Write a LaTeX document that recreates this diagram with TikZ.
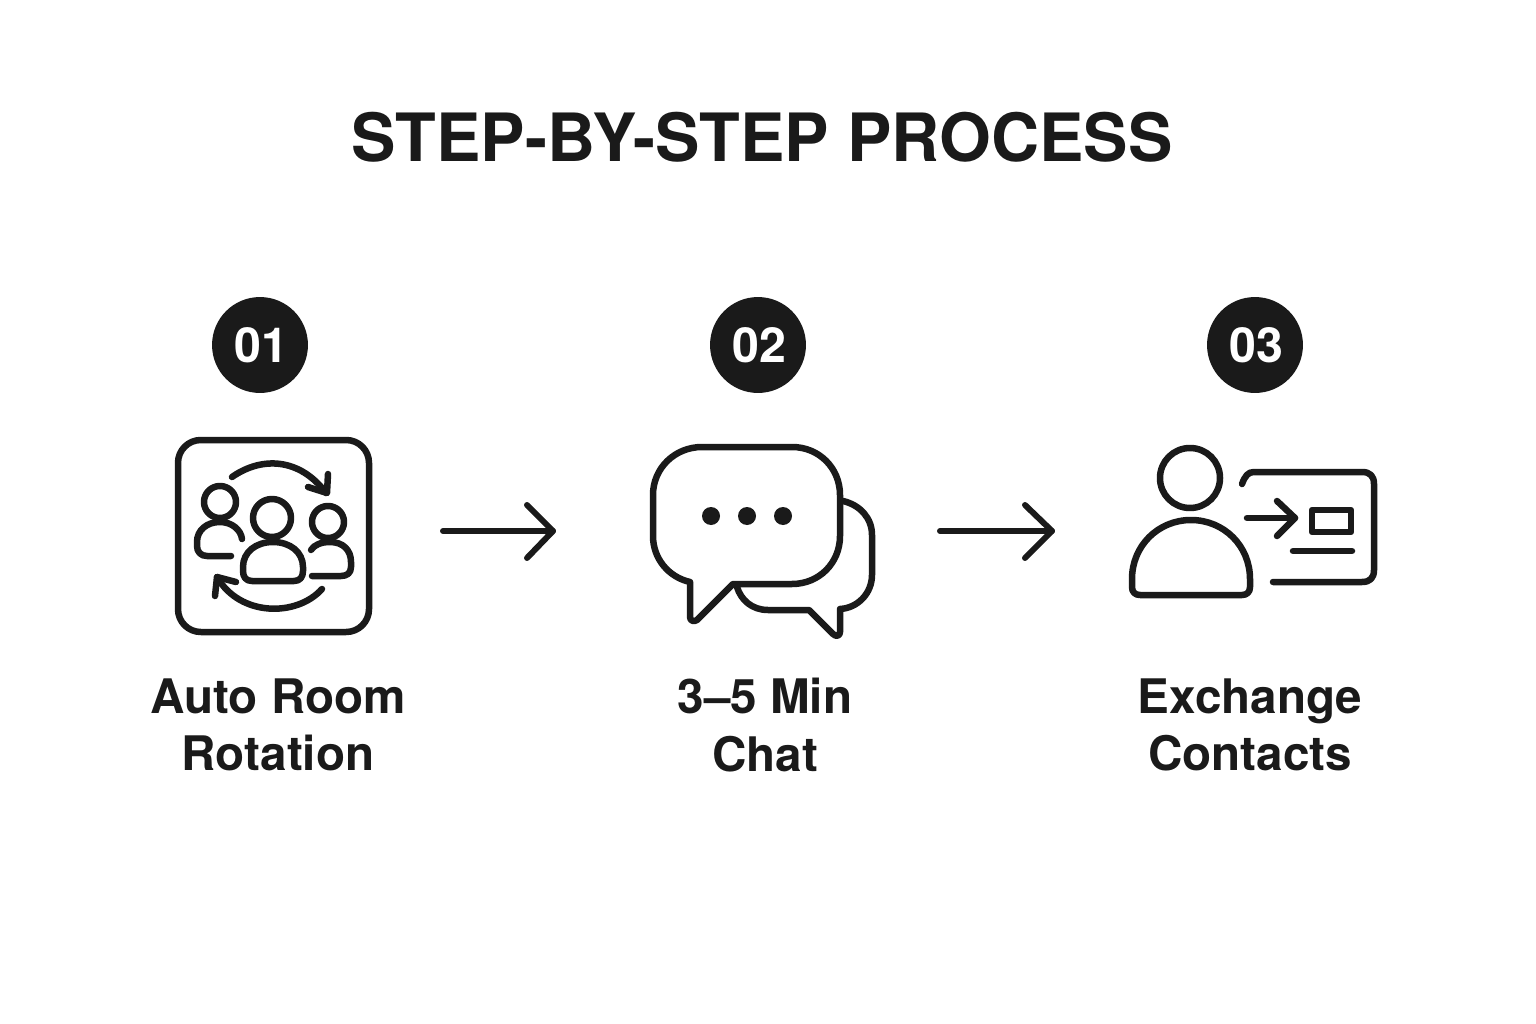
\documentclass[tikz,border=0pt]{standalone}
\usepackage{fontspec}
\setmainfont{TeX Gyre Heros}
\definecolor{inkblack}{HTML}{1A1A1A}
\tikzset{
	icon/.style={draw=inkblack, line width=3.7pt, line cap=round, line join=round},
	flow arrow/.style={draw=inkblack, line width=3.4pt, line cap=round, line join=round},
	numdot/.style={circle, fill=inkblack, text=white, minimum size=54.6pt, inner sep=0pt, font=\fontsize{27.5}{27.5}\selectfont\bfseries},
	caption/.style={align=center, text=inkblack, font=\fontsize{27.1}{32.5}\selectfont\bfseries},
	headline/.style={text=inkblack, font=\fontsize{37.9}{38}\selectfont\bfseries}
}

\begin{document}
\begin{tikzpicture}[x=0.02cm, y=-0.02cm]
		%%%%% START %%%%%
		\useasboundingbox (0, 0) rectangle (1536, 1024);

		\node[headline] (title) at (762, 137) {STEP-BY-STEP PROCESS};

		\node[numdot] (num1) at (260, 345) {\hspace{1.5pt}01};
		\node[numdot] (num2) at (758, 345) {\hspace{1.5pt}02};
		\node[numdot] (num3) at (1255, 345) {\hspace{1.5pt}03};

		% rotation icon
		\draw[icon, rounded corners=13pt] (178, 440) rectangle (369, 632);
		\draw[icon] (232, 477) .. controls (262, 456) and (300, 458) .. (326, 493);
		\draw[icon] (308, 487) -- (327, 493) -- (328, 474);
		\draw[icon] (322, 589) .. controls (297, 617) and (240, 617) .. (217, 577);
		\draw[icon] (236, 582) -- (217, 577) -- (215, 596);
		\draw[icon] (220, 502) circle (16);
		\draw[icon] (231, 556) -- (207, 556) .. controls (201, 556) and (197, 552) .. (197, 546) -- (197, 542) .. controls (197, 530) and (207, 522) .. (220, 522) .. controls (232, 522) and (241, 530) .. (242, 539);
		\draw[icon] (272, 518) circle (19);
		\draw[icon] (252, 581) -- (294, 581) .. controls (300, 581) and (303, 577) .. (303, 571) -- (303, 567) .. controls (303, 552) and (290, 542) .. (273, 542) .. controls (256, 542) and (243, 552) .. (243, 567) -- (243, 571) .. controls (243, 577) and (246, 581) .. (252, 581);
		\draw[icon] (328, 522) circle (16);
		\draw[icon] (311, 550) .. controls (314, 545) and (321, 542) .. (330, 542) .. controls (343, 542) and (351, 550) .. (351, 562) -- (351, 567) .. controls (351, 573) and (347, 576) .. (341, 576) -- (312, 576);

		% chat icon
		\draw[icon] (843, 501) .. controls (860, 505) and (872, 518) .. (872, 535) -- (872, 575) .. controls (872, 593) and (858, 608) .. (840, 609) -- (840, 632) .. controls (840, 636) and (836, 637) .. (833, 634) -- (809, 610) -- (768, 610) .. controls (752, 610) and (741, 600) .. (737, 587);
		\draw[icon] (702, 447) -- (792, 447) .. controls (819, 447) and (840, 468) .. (840, 495) -- (840, 536) .. controls (840, 563) and (819, 584) .. (792, 584) -- (733, 584) -- (697, 620) .. controls (694, 622) and (690, 621) .. (690, 617) -- (690, 582) .. controls (668, 577) and (653, 558) .. (653, 536) -- (653, 495) .. controls (653, 468) and (675, 447) .. (702, 447) -- cycle;
		\foreach \dotx in {711, 747, 783}
			\fill[inkblack] (\dotx, 516) circle (9);

		% contact icon
		\draw[icon] (1190, 478) circle (30);
		\draw[icon] (1140, 595) -- (1242, 595) .. controls (1247, 595) and (1250, 592) .. (1250, 587) -- (1250, 579) .. controls (1250, 546) and (1224, 520) .. (1191, 520) .. controls (1158, 520) and (1132, 546) .. (1132, 579) -- (1132, 587) .. controls (1132, 592) and (1135, 595) .. (1140, 595);
		\draw[icon] (1242, 484) .. controls (1245, 476) and (1248, 472) .. (1254, 472) -- (1362, 472) .. controls (1370, 472) and (1374, 476) .. (1374, 484) -- (1374, 570) .. controls (1374, 578) and (1370, 582) .. (1362, 582) -- (1273, 582);
		\draw[icon] (1247, 518) -- (1295, 518);
		\draw[icon] (1277, 501) -- (1295, 518) -- (1277, 536);
		\draw[icon] (1312, 510) rectangle (1351, 532);
		\draw[icon] (1293, 551) -- (1352, 551);

		% arrows between the steps
		\coordinate (a1) at (443, 531);
		\coordinate (b1) at (553, 531);
		\coordinate (a2) at (940, 531);
		\coordinate (b2) at (1052, 531);
		\draw[flow arrow] (a1) -- (b1);
		\draw[flow arrow] (527, 505) -- (b1) -- (527, 558);
		\draw[flow arrow] (a2) -- (b2);
		\draw[flow arrow] (1025, 505) -- (b2) -- (1025, 558);

		\node[caption] (label1) at (278, 725) {Auto Room\\Rotation};
		\node[caption] (label2) at (765, 725) {3--5 Min\\Chat};
		\node[caption] (label3) at (1250, 725) {Exchange\\Contacts};
		%%%%% END %%%%%
	\end{tikzpicture}
\end{document}
